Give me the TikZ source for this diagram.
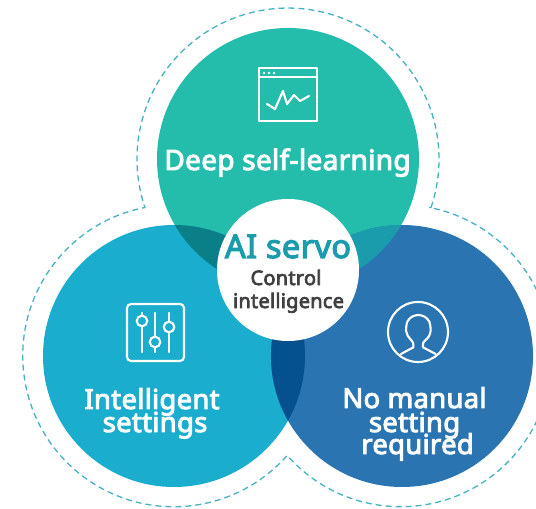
\documentclass[tikz,border=0pt]{standalone}
\usepackage{fontspec}
\setmainfont{Noto Sans}
\newfontfamily\lblfont[FakeBold=3.5,LetterSpace=1.2]{Noto Sans}
\definecolor{cTop}{HTML}{24BCAB}
\definecolor{cLeft}{HTML}{1AADCE}
\definecolor{cRight}{HTML}{2A74B2}
\definecolor{cTL}{HTML}{0A7F88}
\definecolor{cTR}{HTML}{1A9CAC}
\definecolor{cLR}{HTML}{055190}
\definecolor{cDash}{HTML}{45B2BE}
\definecolor{cDark}{HTML}{404040}
\tikzset{
  x=1pt,y=1pt,
  bigtext/.style={anchor=base,inner sep=0pt,text=white,font=\lblfont\fontsize{27.4}{27.4}\selectfont},
  smalltext/.style={anchor=base,inner sep=0pt,text=cDark,font=\lblfont\fontsize{20}{20}\selectfont},
  icon/.style={draw=white,line width=2.1pt,line join=round,line cap=round},
  outline/.style={draw=cDash,line width=1.3pt,dash pattern=on 6pt off 4pt,line join=round}
}
\begin{document}
\begin{tikzpicture}
\useasboundingbox (0,0) rectangle (536,509);
\clip (0,0) rectangle (536,509);
% dashed outline
\draw[outline] (431,301.5) arc[start angle=-18.7,end angle=198.7,radius=151]
  arc[start angle=101,end angle=318.7,radius=151]
  arc[start angle=221.3,end angle=439,radius=151] -- cycle;
% circles
\fill[cTop] (288,350) circle[radius=131];
\fill[cLeft] (174,153) circle[radius=131];
\fill[cRight] (402,153) circle[radius=131];
\begin{scope}\clip (288,350) circle[radius=131];\fill[cTL] (174,153) circle[radius=131];\end{scope}
\begin{scope}\clip (288,350) circle[radius=131];\fill[cTR] (402,153) circle[radius=131];\end{scope}
\begin{scope}\clip (174,153) circle[radius=131];\fill[cLR] (402,153) circle[radius=131];\end{scope}
\fill[white] (288,239) circle[radius=71];
% window icon
\draw[icon] (259,388) rectangle (317,441);
\draw[icon] (259,432) -- (317,432);
\fill[white] (264,436) circle[radius=1.3] (269,436) circle[radius=1.3] (274,436) circle[radius=1.3];
\draw[icon] (267,405) -- (275,400) -- (283,418) -- (287,405) -- (294,414) -- (300,408) -- (309,413);
% sliders icon
\draw[icon,rounded corners=4pt] (127,148) rectangle (184,205);
\draw[icon] (142,157) -- (142,196) (155,157) -- (155,196) (169,157) -- (169,196);
\filldraw[icon,fill=cLeft] (142,188) circle[radius=5.3];
\filldraw[icon,fill=cLeft] (155,167) circle[radius=5.3];
\filldraw[icon,fill=cLeft] (169,182) circle[radius=5.3];
% person icon
\draw[icon] (418,177) circle[radius=30];
\begin{scope}[shift={(320,219)},x=0.3333pt,y=-0.3333pt]
\draw[icon] plot[smooth,tension=0.5] coordinates {(280,172) (279,158) (263,137) (258,122) (262,95) (276,80) (295,75) (314,80) (328,95) (332,122) (326,140) (310,158) (309,172)};
\draw[icon] (243,192) -- (280,172) (309,172) -- (347,192);
\end{scope}
% labels
\node[bigtext,font=\lblfont\fontsize{28}{28}\selectfont] (deep) at (287.5,339) {Deep self-learning};
\node[bigtext] (int1) at (152,100) {Intelligent};
\node[bigtext] (int2) at (155,77) {settings};
\node[bigtext] (no1) at (414.5,101) {No manual};
\node[bigtext] (no2) at (414.5,77) {setting};
\node[bigtext] (no3) at (417.5,55) {required};
\node[anchor=base,inner sep=0pt,text=cTR,font=\lblfont\fontsize{32.5}{32.5}\selectfont] (ai) at (288,251) {AI servo};
\node[smalltext] (ctl) at (286,224) {Control};
\node[smalltext] (itl) at (288.5,201) {intelligence};
\end{tikzpicture}
\end{document}
